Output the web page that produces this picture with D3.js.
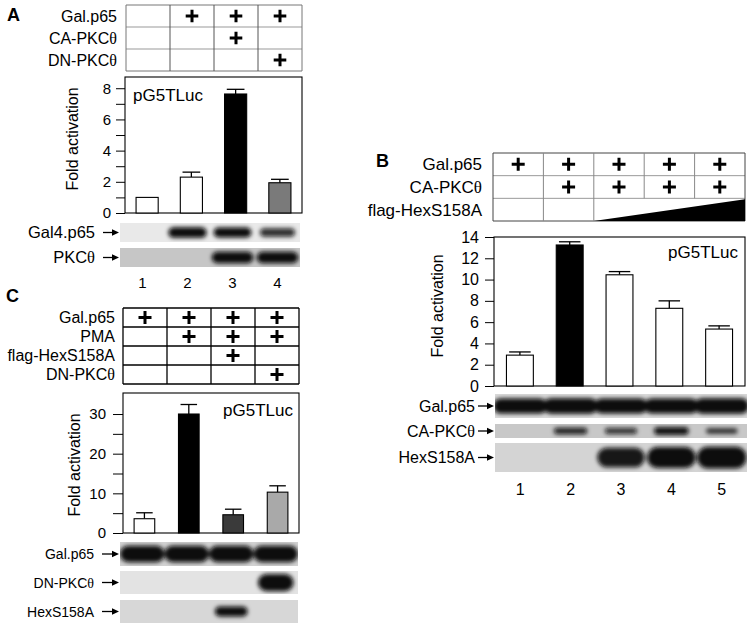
<!DOCTYPE html>
<html>
<head>
<meta charset="utf-8">
<script src="https://cdn.jsdelivr.net/npm/d3@7"></script>
<style>
  body { margin: 0; background: #fff; }
  text { font-family: "Liberation Sans", Arial, sans-serif; fill: #000; }
</style>
</head>
<body>
<svg id="fig" width="750" height="628"></svg>
<script>
// ---------- panel A ----------
const tableRowsA = ["Gal.p65", "CA-PKCθ", "DN-PKCθ"];
const tablePlusA = [[0, 1, 1, 1], [0, 0, 1, 0], [0, 0, 0, 1]];
const lanesA = ["1", "2", "3", "4"];
const foldA = [1.0, 2.3, 7.63, 1.94];
const errA = [0, 0.32, 0.3, 0.22];
const yTicksA = [0, 1, 2, 3, 4, 5, 6, 7, 8];
const yLabelsA = [0, 2, 4, 6, 8];
const blotRowsA = ["Gal4.p65", "PKCθ"];
const blotBandsA = [[0, 1.0, 0.95, 0.6], [0, 0, 1.0, 1.0]];

// ---------- panel B ----------
const tableRowsB = ["Gal.p65", "CA-PKCθ", "flag-HexS158A"];
const tablePlusB = [[1, 1, 1, 1, 1], [0, 1, 1, 1, 1], [0, 0, 0, 0, 0]];
const hexDoseB = [0, 0, 1, 2, 3];
const lanesB = ["1", "2", "3", "4", "5"];
const foldB = [2.9, 13.25, 10.45, 7.3, 5.35];
const errB = [0.3, 0.3, 0.3, 0.7, 0.3];
const yTicksB = [0, 2, 4, 6, 8, 10, 12, 14];
const blotRowsB = ["Gal.p65", "CA-PKCθ", "HexS158A"];
const blotBandsB = [[0.95, 1.0, 0.9, 0.95, 1.0], [0, 0.7, 0.55, 0.9, 0.45], [0, 0, 0.8, 0.92, 1.0]];

// ---------- panel C ----------
const tableRowsC = ["Gal.p65", "PMA", "flag-HexS158A", "DN-PKCθ"];
const tablePlusC = [[1, 1, 1, 1], [0, 1, 1, 1], [0, 0, 1, 0], [0, 0, 0, 1]];
const lanesC = ["1", "2", "3", "4"];
const foldC = [3.6, 30.0, 4.6, 10.3];
const errC = [1.5, 2.4, 1.4, 1.6];
const yTicksC = [0, 5, 10, 15, 20, 25, 30];
const yLabelsC = [0, 10, 20, 30];
const blotRowsC = ["Gal.p65", "DN-PKCθ", "HexS158A"];
const blotBandsC = [[1, 1, 1, 1], [0, 0, 0, 1], [0, 0, 0.9, 0]];

const svg = d3.select("#fig");
const defs = svg.append("defs");
defs.append("filter").attr("id", "blur")
  .attr("x", "-30%").attr("y", "-80%").attr("width", "160%").attr("height", "260%")
  .append("feGaussianBlur").attr("stdDeviation", 2.1);

function addText(g, str, x, y, size, anchor) {
  const t = g.append("text").attr("x", x).attr("y", y)
    .attr("font-size", size).attr("text-anchor", anchor || "end");
  str.split(/(θ)/).filter(s => s).forEach(s => {
    const ts = t.append("tspan").text(s);
    if (s === "θ") ts.attr("font-family", '"Liberation Serif", serif');
  });
  return t;
}

function plus(g, x, y, r) {
  g.append("path")
    .attr("d", `M${x - r},${y}H${x + r}M${x},${y - r}V${y + r}`)
    .attr("stroke", "#000").attr("stroke-width", 3);
}

function arrow(g, x0, x1, y) {
  g.append("line").attr("x1", x0).attr("x2", x1 - 4).attr("y1", y).attr("y2", y)
    .attr("stroke", "#000").attr("stroke-width", 1.3);
  g.append("path").attr("d", `M${x1},${y}L${x1 - 7},${y - 3.2}L${x1 - 7},${y + 3.2}Z`).attr("fill", "#000");
}

function drawTable(g, t) {
  const nCols = t.plus[0].length;
  const col = d3.scaleBand().domain(d3.range(nCols)).range([t.x0, t.x1]);
  const row = d3.scaleBand().domain(d3.range(t.rows.length)).range([t.y0, t.y1]);
  d3.range(t.rows.length + 1).forEach(i => {
    const yy = t.y0 + i * row.step();
    const outer = i === 0 || i === t.rows.length;
    g.append("line").attr("x1", t.x0).attr("x2", t.x1).attr("y1", yy).attr("y2", yy)
      .attr("stroke", outer ? t.outer : t.hColor).attr("stroke-width", t.sw);
  });
  d3.range(nCols + 1).forEach(j => {
    const xx = t.x0 + j * col.step();
    const outer = j === 0 || j === nCols;
    const inWedge = t.dose && j > t.dose.findIndex(v => v > 0) && j < nCols;
    const yEnd = inWedge ? row(t.rows.length - 1) : t.y1;
    g.append("line").attr("x1", xx).attr("x2", xx).attr("y1", t.y0).attr("y2", yEnd)
      .attr("stroke", outer ? t.outer : t.vColor).attr("stroke-width", t.sw);
  });
  t.rows.forEach((r, i) => addText(g, r, t.labelX, row(i) + row.bandwidth() / 2, t.fs).attr("dy", "0.36em"));
  t.plus.forEach((vals, i) => vals.forEach((v, j) => {
    if (v) plus(g, col(j) + col.bandwidth() / 2, row(i) + row.bandwidth() / 2, t.pr);
  }));
  if (t.dose) {
    const r = t.rows.length - 1;
    const first = t.dose.findIndex(v => v > 0);
    const bottom = row(r) + row.bandwidth();
    const h = d3.scaleLinear().domain([0, d3.max(t.dose)]).range([0, row.bandwidth() - 1]);
    g.append("path")
      .attr("d", `M${col(first)},${bottom}L${t.x1},${bottom}L${t.x1},${bottom - h(t.dose[t.dose.length - 1])}Z`)
      .attr("fill", "#000");
  }
}

function drawChart(g, c) {
  const x = d3.scaleBand().domain(c.lanes).range([c.x0, c.x1]).paddingInner(c.pi).paddingOuter(c.po);
  const y = d3.scaleLinear().domain([0, c.ymax]).range([c.yb, c.yt]);
  const ax = g.append("g").attr("transform", `translate(${c.x0},0)`)
    .call(d3.axisLeft(y).tickValues(c.ticks).tickSize(c.tickSize).tickPadding(c.pad)
      .tickFormat(d => c.labels.includes(d) ? d : ""));
  ax.select(".domain").remove();
  ax.selectAll("line").attr("stroke", "#000");
  ax.selectAll("text").attr("font-size", c.tfs).attr("font-family", '"Liberation Sans", Arial, sans-serif').attr("fill", "#000");
  g.append("rect").attr("x", c.x0).attr("y", c.yt).attr("width", c.x1 - c.x0).attr("height", c.yb - c.yt)
    .attr("fill", "none").attr("stroke", "#000").attr("stroke-width", 1.1);
  const bw = x.bandwidth();
  c.values.forEach((v, i) => {
    const cx = x(c.lanes[i]) + bw / 2;
    const e = c.errs[i];
    if (e > 0) {
      g.append("line").attr("x1", cx).attr("x2", cx).attr("y1", y(v)).attr("y2", y(v + e)).attr("stroke", "#000").attr("stroke-width", 1.3);
      g.append("line").attr("x1", cx - bw * 0.4).attr("x2", cx + bw * 0.4).attr("y1", y(v + e)).attr("y2", y(v + e)).attr("stroke", "#000").attr("stroke-width", 1.3);
    }
  });
  g.selectAll(null).data(c.values).enter().append("rect")
    .attr("x", (d, i) => x(c.lanes[i]))
    .attr("y", d => y(d))
    .attr("width", bw)
    .attr("height", d => c.yb - y(d))
    .attr("fill", (d, i) => c.colors[i])
    .attr("stroke", "#000").attr("stroke-width", 1.1);
  addText(g, "pG5TLuc", c.tagX, c.tagY, 17, c.tagAnchor);
  g.append("text").attr("transform", `translate(${c.titleX},${c.titleY}) rotate(-90)`)
    .attr("text-anchor", "middle").attr("font-size", 16).text("Fold activation");
}

let clipId = 0;
function drawBlots(g, b) {
  const x = d3.scalePoint().domain(b.lanes).range([b.x0, b.x1]).padding(0.5);
  b.rows.forEach((name, i) => {
    const [y0, y1] = b.strips[i];
    const h = y1 - y0, cy = (y0 + y1) / 2;
    const id = "clip" + (clipId++);
    defs.append("clipPath").attr("id", id).append("rect")
      .attr("x", b.x0).attr("y", y0).attr("width", b.x1 - b.x0).attr("height", h);
    g.append("rect").attr("x", b.x0).attr("y", y0).attr("width", b.x1 - b.x0).attr("height", h).attr("fill", b.bg[i]);
    const bandG = g.append("g").attr("clip-path", `url(#${id})`).append("g").attr("filter", "url(#blur)");
    b.bands[i].forEach((v, j) => {
      if (!v) return;
      const w = x.step() * b.bw[i] * (0.8 + 0.2 * v);
      const bh = h * b.bh[i] * (0.5 + 0.5 * v);
      bandG.append("rect")
        .attr("x", x(b.lanes[j]) - w / 2).attr("y", cy - bh / 2)
        .attr("width", w).attr("height", bh).attr("rx", Math.min(w, bh) / 2)
        .attr("fill", "#080808").attr("fill-opacity", Math.min(1, 0.55 + 0.5 * v));
    });
    addText(g, name, b.labelX, cy, b.fs).attr("dy", "0.36em");
    arrow(g, b.arrowX, b.x0 - 1, cy);
  });
  if (b.numY) {
    b.lanes.forEach(l => g.append("text").attr("x", x(l)).attr("y", b.numY)
      .attr("text-anchor", "middle").attr("font-size", b.numFs).text(l));
  }
}

// ----- panel A -----
const gA = svg.append("g");
gA.append("text").attr("x", 7).attr("y", 21).attr("font-size", 18).attr("font-weight", "bold").text("A");
drawTable(gA, { rows: tableRowsA, plus: tablePlusA, x0: 126, x1: 302, y0: 5, y1: 71,
  labelX: 117, fs: 16, pr: 6.3, sw: 1, outer: "#777", hColor: "#999", vColor: "#555" });
drawChart(gA, { lanes: lanesA, values: foldA, errs: errA, colors: ["#fff", "#fff", "#000", "#7a7a7a"],
  x0: 125, x1: 302, yt: 77, yb: 213, ymax: 8.72, pi: 0.5, po: 0.25,
  ticks: yTicksA, labels: yLabelsA, tickSize: 9, pad: 5, tfs: 15,
  tagX: 133, tagY: 101, tagAnchor: "start", titleX: 78, titleY: 139 });
drawBlots(gA, { lanes: lanesA, rows: blotRowsA, bands: blotBandsA,
  x0: 120, x1: 300, strips: [[223, 242], [248, 267]], bg: ["#e9e9e9", "#c6c6c6"],
  bw: [0.85, 0.92], bh: [0.55, 0.6], labelX: 95, fs: 16.5, arrowX: 103, numY: 288, numFs: 15 });

// ----- panel B -----
const gB = svg.append("g");
gB.append("text").attr("x", 376).attr("y", 167).attr("font-size", 18).attr("font-weight", "bold").text("B");
drawTable(gB, { rows: tableRowsB, plus: tablePlusB, dose: hexDoseB, x0: 493, x1: 745, y0: 153, y1: 221,
  labelX: 482, fs: 17, pr: 6.5, sw: 1, outer: "#444", hColor: "#999", vColor: "#888" });
drawChart(gB, { lanes: lanesB, values: foldB, errs: errB, colors: ["#fff", "#000", "#fff", "#fff", "#fff"],
  x0: 494, x1: 745, yt: 237, yb: 386, ymax: 14, pi: 0.46, po: 0.25,
  ticks: yTicksB, labels: yTicksB, tickSize: 9, pad: 6, tfs: 16,
  tagX: 738, tagY: 258, tagAnchor: "end", titleX: 443, titleY: 306 });
drawBlots(gB, { lanes: lanesB, rows: blotRowsB, bands: blotBandsB,
  x0: 495, x1: 747, strips: [[394, 418], [424, 438], [443, 472]], bg: ["#dadada", "#c8c8c8", "#d4d4d4"],
  bw: [1.08, 0.7, 0.98], bh: [0.65, 0.55, 0.75], labelX: 475, fs: 16, arrowX: 478, numY: 495, numFs: 16 });

// ----- panel C -----
const gC = svg.append("g");
gC.append("text").attr("x", 6).attr("y", 302).attr("font-size", 18).attr("font-weight", "bold").text("C");
drawTable(gC, { rows: tableRowsC, plus: tablePlusC, x0: 123, x1: 299, y0: 308, y1: 384,
  labelX: 115, fs: 16, pr: 6.5, sw: 1.3, outer: "#000", hColor: "#000", vColor: "#000" });
drawChart(gC, { lanes: lanesC, values: foldC, errs: errC, colors: ["#fff", "#000", "#3a3a3a", "#a9a9a9"],
  x0: 123, x1: 299, yt: 393, yb: 533, ymax: 35.3, pi: 0.535, po: 0.25,
  ticks: yTicksC, labels: yLabelsC, tickSize: 10, pad: 7, tfs: 15,
  tagX: 293, tagY: 416, tagAnchor: "end", titleX: 80, titleY: 465 });
drawBlots(gC, { lanes: lanesC, rows: blotRowsC, bands: blotBandsC,
  x0: 120, x1: 298, strips: [[542, 566], [571, 594], [600, 623]], bg: ["#d2d2d2", "#e3e3e3", "#d7d7d7"],
  bw: [1.0, 0.8, 0.75], bh: [0.68, 0.75, 0.45], labelX: 94, fs: 14, arrowX: 102, numY: null });
</script>
</body>
</html>
